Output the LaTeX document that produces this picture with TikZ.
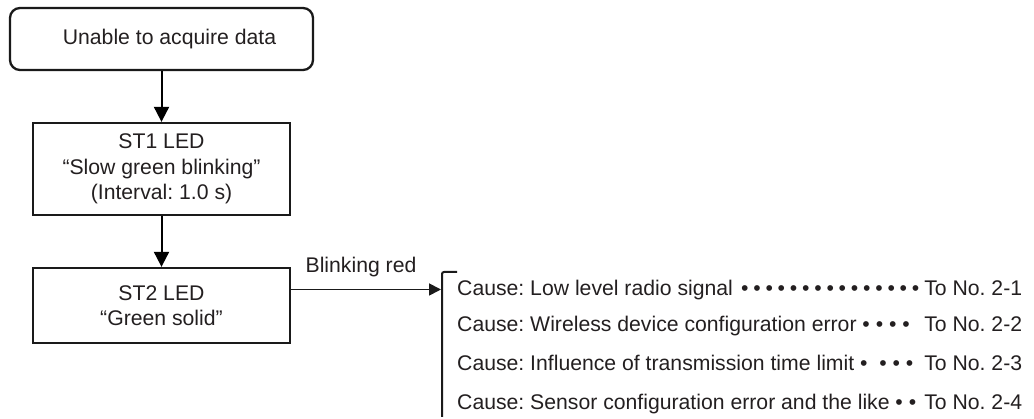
\documentclass[tikz,border=0pt]{standalone}
\usepackage{fontspec}
\setmainfont{Liberation Sans}
\usetikzlibrary{arrows.meta,calc}
\definecolor{ink}{HTML}{231F20}
\definecolor{edge}{HTML}{1A1A1A}
\tikzset{
  box/.style={draw=edge, line width=2.3pt, minimum width=257pt, align=center, text=ink, inner sep=0pt},
  arr/.style={draw=black, line width=2pt, -{Triangle[length=15pt,width=15pt]}},
  harr/.style={draw=edge, line width=1.8pt, -{Triangle[length=12pt,width=12pt]}},
  brk/.style={draw=edge, line width=2pt},
  cause/.style={anchor=base west, text=ink, inner sep=0pt},
  lbl/.style={text=ink, inner sep=0pt},
}
\newcommand{\cl}[2]{\makebox[565pt][l]{#1\hfill #2}}
\newcommand{\bl}{\makebox[12.2pt]{•}}
\begin{document}
\frenchspacing
\begin{tikzpicture}[x=1pt,y=-1pt,font=\fontsize{21.2}{25.5}\selectfont]
\useasboundingbox (0,0) rectangle (1034,419);
\node[box, rounded corners=10pt, minimum width=303pt, minimum height=62pt] (b1) at (161.5,39) {\hspace*{16pt}Unable to acquire data};
\node[box, minimum height=92pt] (b2) at (161.5,169) {ST1 LED\\“Slow green blinking”\\(Interval: 1.0 s)};
\node[box, minimum height=75pt] (b3) at (161.5,305.5) {ST2 LED\\“Green solid”};
\draw[arr] (b1) -- (b2);
\draw[arr] (b2) -- (b3);
\coordinate (bt) at (441,289.5);
\coordinate (btop) at (457,272);
\coordinate (bcorner) at (442,272);
\coordinate (bbot) at (442,417);
\draw[harr] (b3.east |- bt) -- (bt);
\node[lbl] (red) at (361,267) {Blinking red};
\draw[brk, rounded corners=2pt] (btop) -- (bcorner) -- (bbot);
\node[cause] (c1) at (457,295.7) {\cl{Cause: Low level radio signal \bl\bl\bl\bl\bl\bl\bl\bl\bl\bl\bl\bl\bl\bl\bl}{To No. 2-1}};
\node[cause] (c2) at (457,331.7) {\cl{Cause: Wireless device configuration error • • • •}{To No. 2-2}};
\node[cause] (c3) at (457,370.2) {\cl{Cause: Influence of transmission time limit •\ \ • • •}{To No. 2-3}};
\node[cause] (c4) at (457,409.2) {\cl{Cause: Sensor configuration error and the like • •}{To No. 2-4}};
\end{tikzpicture}
\end{document}
